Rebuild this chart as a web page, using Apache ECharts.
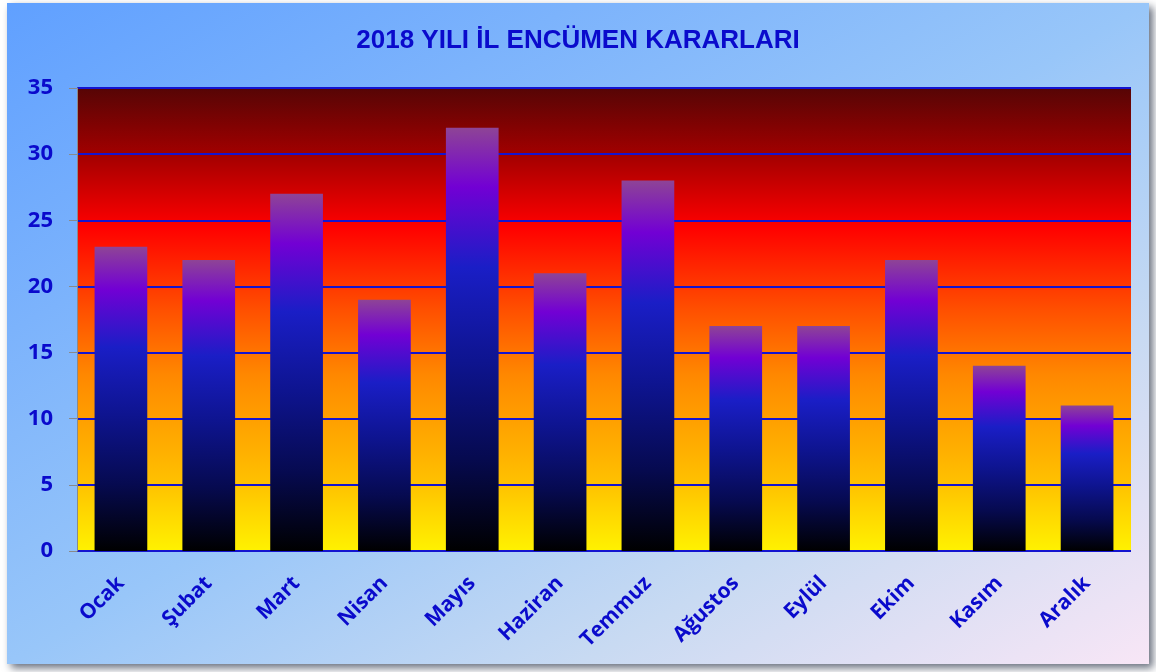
<!DOCTYPE html>
<html>
<head>
<meta charset="utf-8">
<script src="https://cdn.jsdelivr.net/npm/echarts@6/dist/echarts.min.js"></script>
<style>
  html, body { margin: 0; padding: 0; background: #ffffff; }
  #chart { width: 1156px; height: 672px; }
</style>
</head>
<body>
<div id="chart"></div>
<script>
  var months = ['Ocak', 'Şubat', 'Mart', 'Nisan', 'Mayıs', 'Haziran', 'Temmuz', 'Ağustos', 'Eylül', 'Ekim', 'Kasım', 'Aralık'];
  var kararlar = [23, 22, 27, 19, 32, 21, 28, 17, 17, 22, 14, 11];
  var yTicks = [0, 5, 10, 15, 20, 25, 30, 35];

  var chart = echarts.init(document.getElementById('chart'));
  var blue = '#0a0acc';

  var option = {
    animation: false,
    graphic: [{
      type: 'rect',
      z: -10,
      silent: true,
      shape: { x: 7, y: 3, width: 1142, height: 661 },
      style: {
        // diagonal so that top-right and bottom-left share a tone
        fill: new echarts.graphic.LinearGradient(7, 3, 580, 993, [
          { offset: 0, color: '#60a0ff' },
          { offset: 0.5, color: '#98c6f9' },
          { offset: 0.75, color: '#c8daf2' },
          { offset: 1, color: '#f8e6f6' }
        ], true),
        shadowBlur: 8,
        shadowOffsetX: 4,
        shadowOffsetY: 4,
        shadowColor: 'rgba(40,50,70,0.7)'
      }
    }],
    title: {
      text: '2018 YILI İL ENCÜMEN KARARLARI',
      left: 'center',
      top: 23,
      textStyle: {
        color: blue,
        fontFamily: 'Liberation Sans',
        fontWeight: 'bold',
        fontSize: 26
      }
    },
    grid: {
      left: 77,
      right: 25,
      top: 88,
      bottom: 121,
      show: true,
      borderWidth: 0,
      backgroundColor: new echarts.graphic.LinearGradient(0, 0, 0, 1, [
        { offset: 0, color: '#560505' },
        { offset: 0.14, color: '#a00000' },
        { offset: 0.3, color: '#ff0000' },
        { offset: 0.48, color: '#ff5000' },
        { offset: 0.62, color: '#ff8800' },
        { offset: 0.85, color: '#ffc000' },
        { offset: 1, color: '#fff200' }
      ])
    },
    xAxis: {
      type: 'category',
      data: months,
      axisLine: { show: false },
      axisTick: { show: false },
      axisLabel: {
        rotate: 45,
        margin: 29,
        color: blue,
        fontFamily: 'Open Sans',
        fontWeight: 'bold',
        fontSize: 21
      }
    },
    yAxis: {
      type: 'value',
      min: 0,
      max: 35,
      interval: 5,
      axisLine: { show: true, lineStyle: { color: '#8a8a8a', width: 1 } },
      axisTick: { show: true, length: 8, lineStyle: { color: '#8a8a8a' } },
      axisLabel: {
        margin: 24,
        color: blue,
        fontFamily: 'Open Sans',
        fontWeight: 'bold',
        fontSize: 22,
        formatter: function (v) { return yTicks.indexOf(v) >= 0 ? String(v) : ''; }
      },
      splitLine: { show: true, lineStyle: { color: '#1414d0', width: 2 } }
    },
    series: [{
      type: 'bar',
      data: kararlar,
      barCategoryGap: '40%',
      itemStyle: {
        color: new echarts.graphic.LinearGradient(0, 0, 0, 1, [
          { offset: 0, color: '#8e4496' },
          { offset: 0.14, color: '#7200d4' },
          { offset: 0.33, color: '#1a1ec6' },
          { offset: 0.55, color: '#0e1490' },
          { offset: 0.78, color: '#060a50' },
          { offset: 1, color: '#000000' }
        ])
      }
    }]
  };

  chart.setOption(option);
</script>
</body>
</html>
